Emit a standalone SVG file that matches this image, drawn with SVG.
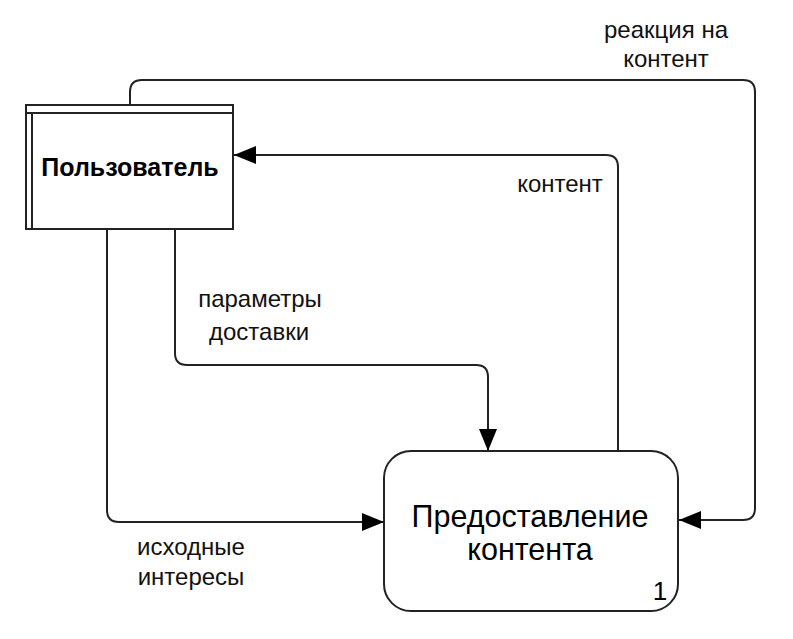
<svg xmlns="http://www.w3.org/2000/svg" width="793" height="639" viewBox="0 0 793 639">
<defs>
<marker id="arr" viewBox="0 0 22 20" refX="22" refY="10" markerWidth="22" markerHeight="20" markerUnits="userSpaceOnUse" orient="auto">
<path d="M0,1 L22,10 L0,19 Z" fill="#000"/>
</marker>
<style>
.ln{fill:none;stroke:#222;stroke-width:2}
.lbl{font-family:"Liberation Sans",Arial,sans-serif;font-size:24px;fill:#111}
.nd{fill:#fff;stroke:#222;stroke-width:2}
</style>
</defs>
<rect width="793" height="639" fill="#fff"/>
<g id="connectors">
<path class="ln" d="M130,105 V92 Q130,80 142,80 H743 Q755,80 755,92 V508 Q755,520 743,520 H679" marker-end="url(#arr)"/>
<path class="ln" d="M618,451 V167 Q618,155 606,155 H234" marker-end="url(#arr)"/>
<path class="ln" d="M175,229 V353 Q175,365 187,365 H476 Q488,365 488,377 V451" marker-end="url(#arr)"/>
<path class="ln" d="M107,229 V510 Q107,522 119,522 H384" marker-end="url(#arr)"/>
</g>
<g id="user">
<rect class="nd" x="26" y="105" width="207" height="124"/>
<line class="ln" x1="32" y1="113" x2="32" y2="229"/>
<line class="ln" x1="26" y1="113" x2="233" y2="113"/>
<text x="130" y="176" text-anchor="middle" font-family="Liberation Sans,Arial,sans-serif" font-size="25" font-weight="bold">Пользователь</text>
</g>
<g id="process">
<rect class="nd" x="384" y="451" width="294" height="160" rx="27" ry="27"/>
<text x="530" y="527" text-anchor="middle" font-family="Liberation Sans,Arial,sans-serif" font-size="30.5">Предоставление</text>
<text x="530" y="560" text-anchor="middle" font-family="Liberation Sans,Arial,sans-serif" font-size="30.5">контента</text>
<text x="660" y="600" text-anchor="middle" font-family="Liberation Sans,Arial,sans-serif" font-size="26">1</text>
</g>
<g id="labels">
<text class="lbl" x="666" y="38" text-anchor="middle">реакция на</text>
<text class="lbl" x="666" y="67" text-anchor="middle">контент</text>
<text class="lbl" x="560" y="192" text-anchor="middle">контент</text>
<text class="lbl" x="260" y="307" text-anchor="middle">параметры</text>
<text class="lbl" x="259" y="340" text-anchor="middle">доставки</text>
<text class="lbl" x="191" y="555" text-anchor="middle">исходные</text>
<text class="lbl" x="191" y="585" text-anchor="middle">интересы</text>
</g>
</svg>
